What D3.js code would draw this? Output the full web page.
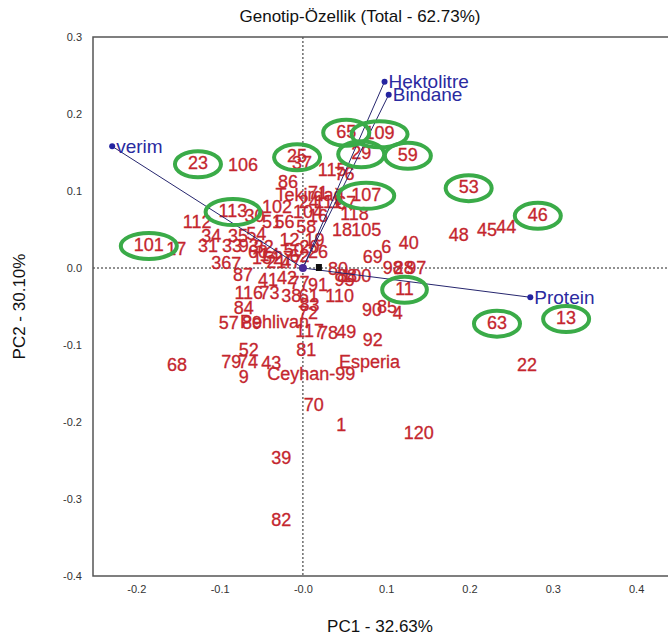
<!DOCTYPE html>
<html><head><meta charset="utf-8">
<script src="https://cdn.jsdelivr.net/npm/d3@7"></script>
<style>body{margin:0;background:#fff}svg{display:block}</style>
</head><body><svg id="c" width="668" height="640"></svg>
<script>
const genoLabels = ["23","25","65","109","29","59","107","53","46","113","101","11","63","13",
"106","37","115","76","86","Tekirdağ","24","111","67","118","18","105","102","112","30","51",
"34","35","54","31","33","93","32","17","36","7","56","58","16","104","71","12","19","20","50",
"26","27","14","15","21","47","60","62","48","45","44","40","6","69","98","28","97","80","88",
"100","95","87","41","42","77","91","116","73","38","61","110","83","90","85","4","84","57","89",
"Pehlivan","72","117","78","49","92","52","81","68","79","74","43","9","Ceyhan-99","Esperia","22",
"70","1","120","39","82"];
const genoPC1 = [-0.126,-0.007,0.052,0.092,0.070,0.126,0.076,0.199,0.282,-0.084,-0.185,0.122,0.233,0.316,
-0.072,-0.001,0.035,0.050,-0.018,0.008,0.007,0.030,0.052,0.062,0.047,0.076,-0.031,-0.127,-0.058,-0.037,
-0.110,-0.078,-0.056,-0.114,-0.085,-0.065,-0.047,-0.152,-0.098,-0.080,-0.022,0.004,0.018,0.006,0.018,-0.016,0.014,0.008,-0.011,
0.018,-0.024,-0.040,-0.049,-0.032,-0.014,-0.054,-0.004,0.187,0.221,0.244,0.127,0.100,0.084,0.108,0.121,0.136,0.042,0.053,
0.064,0.050,-0.072,-0.042,-0.019,-0.004,0.018,-0.065,-0.040,-0.014,0.007,0.044,0.008,0.083,0.101,0.114,-0.071,-0.089,-0.061,
-0.034,0.006,0.008,0.030,0.052,0.084,-0.065,0.004,-0.151,-0.086,-0.066,-0.038,-0.071,0.010,0.080,0.269,
0.013,0.046,0.139,-0.026,-0.026];
const genoPC2 = [0.136,0.145,0.177,0.175,0.149,0.147,0.095,0.105,0.069,0.074,0.030,-0.027,-0.071,-0.065,
0.134,0.136,0.127,0.122,0.112,0.095,0.086,0.086,0.084,0.070,0.049,0.049,0.079,0.060,0.068,0.060,
0.042,0.042,0.044,0.029,0.029,0.029,0.027,0.025,0.006,0.005,0.060,0.053,0.068,0.073,0.097,0.036,0.036,0.027,0.023,
0.021,0.013,0.017,0.013,0.008,0.008,0.021,0.016,0.043,0.049,0.053,0.032,0.027,0.014,0.000,0.000,0.000,-0.001,-0.010,
-0.010,-0.016,-0.009,-0.016,-0.013,-0.019,-0.022,-0.032,-0.032,-0.036,-0.036,-0.036,-0.048,-0.055,-0.051,-0.058,-0.052,-0.071,-0.071,
-0.070,-0.058,-0.082,-0.084,-0.083,-0.094,-0.106,-0.106,-0.126,-0.122,-0.122,-0.123,-0.142,-0.138,-0.122,-0.126,
-0.178,-0.204,-0.214,-0.247,-0.327];

const traitNames = ["verim","Hektolitre","Bindane","Protein"];
const traitPC1 = [-0.229,0.098,0.103,0.273];
const traitPC2 = [0.158,0.242,0.225,-0.038];

const circled = ["23","25","65","109","29","59","107","53","46","113","101","11","63","13"];

const xTicks = [-0.2,-0.1,0,0.1,0.2,0.3,0.4];
const xTickLabels = ["-0.2","-0.1","-0.0","0.1","0.2","0.3","0.4"];
const yTicks = [-0.4,-0.3,-0.2,-0.1,0,0.1,0.2,0.3];
const yTickLabels = ["-0.4","-0.3","-0.2","-0.1","0.0","0.1","0.2","0.3"];

const titleText = "Genotip-Özellik (Total - 62.73%)";
const xTitle = "PC1 - 32.63%";
const yTitle = "PC2 - 30.10%";

const svg = d3.select("#c");
const L = 93, R = 664, T = 37, B = 576;
const x = d3.scaleLinear().domain([-0.252, 0.4335]).range([L, R]);
const y = d3.scaleLinear().domain([-0.4, 0.3]).range([B, T]);

const font = "Liberation Sans, Arial, sans-serif";

// title
svg.append("text").attr("x", 360).attr("y", 22).attr("text-anchor","middle")
  .attr("font-family", font).attr("font-size", 17).attr("fill","#111").text(titleText);

// zero lines
svg.append("line").attr("x1", x(0)).attr("x2", x(0)).attr("y1", T).attr("y2", B)
  .attr("stroke","#222").attr("stroke-dasharray","2,2").attr("stroke-width",1);
svg.append("line").attr("x1", L).attr("x2", 668).attr("y1", y(0)).attr("y2", y(0))
  .attr("stroke","#222").attr("stroke-dasharray","2,2").attr("stroke-width",1);

// frame (left, top, bottom; right edge runs off the picture)
svg.append("path").attr("d", `M668,${T}H${L}V${B}H668`)
  .attr("fill","none").attr("stroke","#555").attr("stroke-width",1.5);

// axes
const xAxis = d3.axisBottom(x).tickValues(xTicks).tickSize(0).tickPadding(9)
  .tickFormat((d,i) => xTickLabels[i]);
const gx = svg.append("g").attr("transform", `translate(0,${B})`).call(xAxis);
gx.select(".domain").remove();
gx.selectAll("text").attr("font-family", font).attr("font-size", 11).attr("fill","#333");

const yAxis = d3.axisLeft(y).tickValues(yTicks).tickSize(0).tickPadding(11)
  .tickFormat((d,i) => yTickLabels[i]);
const gy = svg.append("g").attr("transform", `translate(${L},0)`).call(yAxis);
gy.select(".domain").remove();
gy.selectAll("text").attr("font-family", font).attr("font-size", 11).attr("fill","#333");

svg.append("text").attr("x", 380).attr("y", 632).attr("text-anchor","middle")
  .attr("font-family", font).attr("font-size", 17).attr("fill","#111").text(xTitle);
svg.append("text").attr("transform", `translate(25,${(T+B)/2}) rotate(-90)`).attr("text-anchor","middle")
  .attr("font-family", font).attr("font-size", 17).attr("fill","#111").text(yTitle);

// genotype labels
const geno = genoLabels.map((l,i) => ({label:l, px:genoPC1[i], py:genoPC2[i]}));
const labelsG = svg.append("g");
labelsG.selectAll("text").data(geno).enter().append("text")
  .attr("x", d => x(d.px)).attr("y", d => y(d.py))
  .attr("text-anchor","middle").attr("dominant-baseline","central")
  .attr("font-family", font).attr("font-size", 18).attr("fill","#c4262e")
  .attr("stroke","#c4262e").attr("stroke-width",0.3)
  .text(d => d.label);

// trait vectors
const traits = traitNames.map((n,i) => ({name:n, px:traitPC1[i], py:traitPC2[i]}));
svg.append("g").selectAll("line").data(traits).enter().append("line")
  .attr("x1", x(0)).attr("y1", y(0)).attr("x2", d => x(d.px)).attr("y2", d => y(d.py))
  .attr("stroke", "#26266e").attr("stroke-width", 1);
svg.append("g").selectAll("circle").data(traits).enter().append("circle")
  .attr("cx", d => x(d.px)).attr("cy", d => y(d.py)).attr("r", 3).attr("fill","#2424a0");
svg.append("circle").attr("cx", x(0)).attr("cy", y(0)).attr("r", 4).attr("fill","#4b2a9a");
svg.append("rect").attr("x", x(0)+13).attr("y", y(0)-4).attr("width",6).attr("height",7).attr("fill","#111");
svg.append("g").selectAll("text").data(traits).enter().append("text")
  .attr("x", d => x(d.px) + 4).attr("y", d => y(d.py))
  .attr("dominant-baseline","central")
  .attr("font-family", font).attr("font-size", 19).attr("fill","#2a2aa0")
  .text(d => d.name);

// green ellipses
const circ = geno.filter(d => circled.includes(d.label));
const ellG = svg.append("g");
labelsG.selectAll("text").each(function(d){ d.w = this.getComputedTextLength(); });
ellG.selectAll("ellipse").data(circ).enter().append("ellipse")
  .attr("cx", d => x(d.px)).attr("cy", d => y(d.py) + 1)
  .attr("rx", d => d.w/2 + 13).attr("ry", 13)
  .attr("fill","none").attr("stroke","#3aab48").attr("stroke-width",4);
</script></body></html>
